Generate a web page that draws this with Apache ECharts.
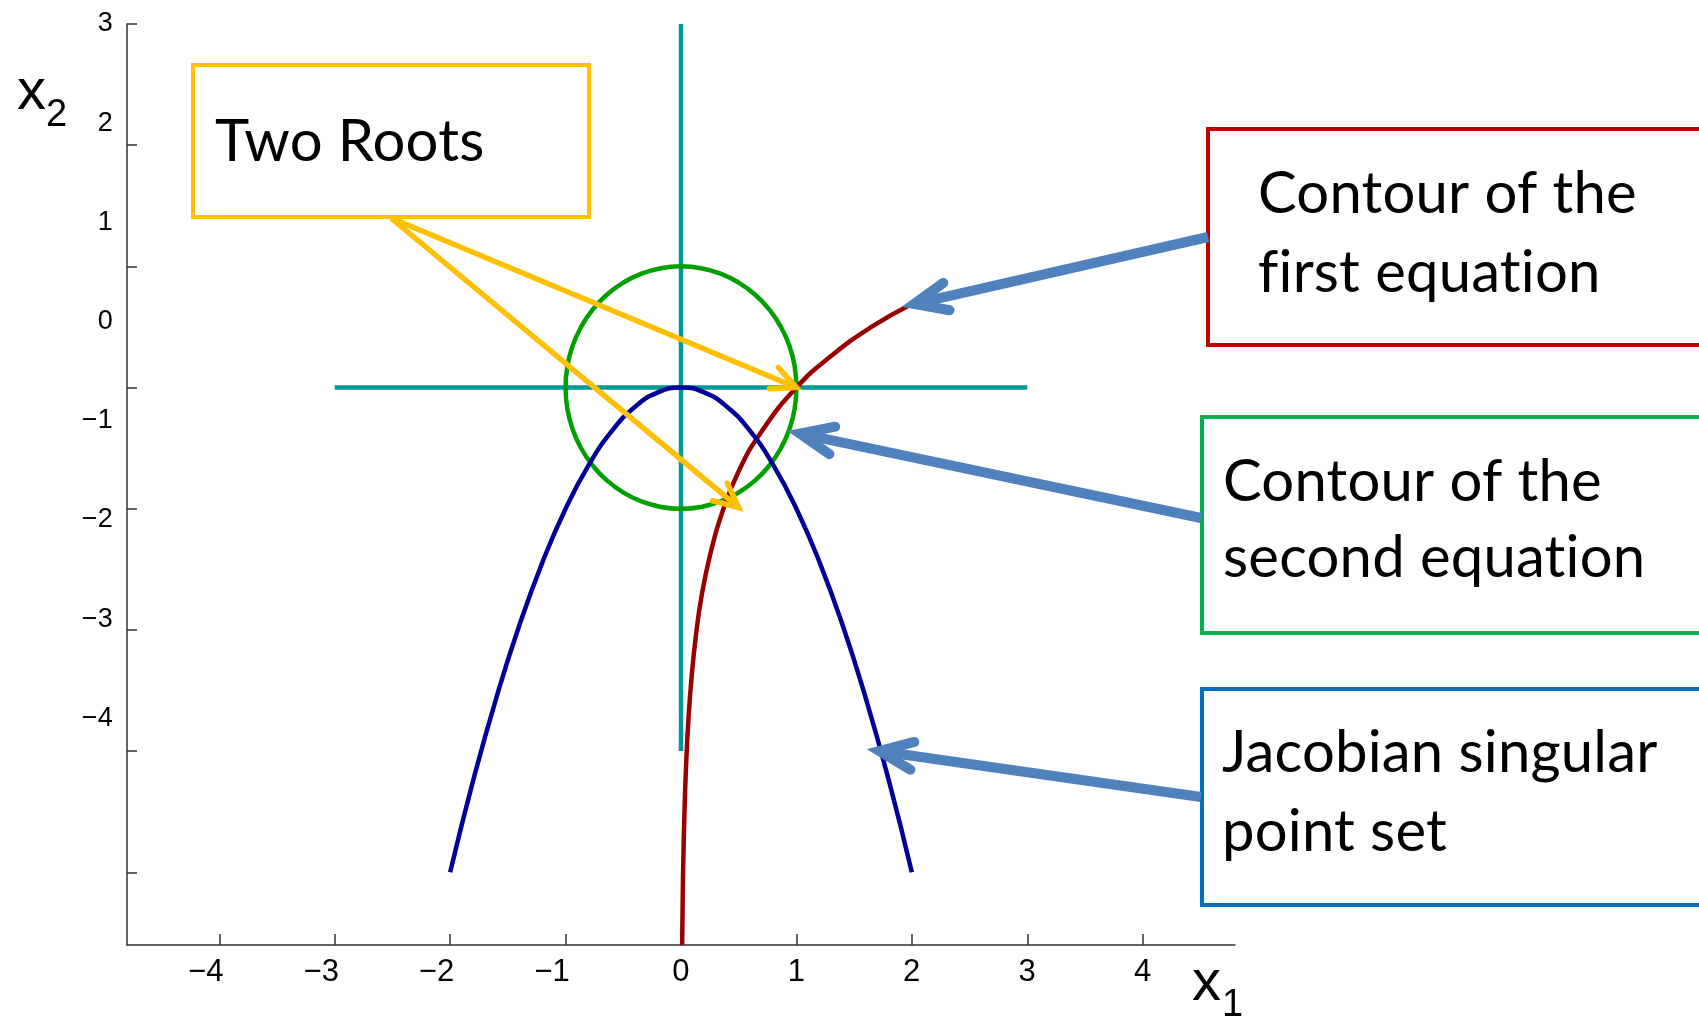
<!DOCTYPE html>
<html><head><meta charset="utf-8">
<script src="https://cdn.jsdelivr.net/npm/echarts@6/dist/echarts.min.js"></script>
<style>html,body{margin:0;padding:0;background:#fff}#c{width:1699px;height:1019px}</style>
</head><body><div id="c"></div>
<script>
// ---- data ----
const xTicks = [-4, -3, -2, -1, 0, 1, 2, 3, 4];
const yTicks = [-4, -3, -2, -1, 0, 1, 2, 3];
const hLine = [[-3, 0], [3, 0]];
const vLine = [[0, 3], [0, -3]];
const circle = [[0.985,-0.174],[1,0],[0.985,0.174],[0.94,0.342],[0.866,0.5],[0.766,0.643],[0.643,0.766],[0.5,0.866],
  [0.342,0.94],[0.174,0.985],[0,1],[-0.174,0.985],[-0.342,0.94],[-0.5,0.866],[-0.643,0.766],[-0.766,0.643],
  [-0.866,0.5],[-0.94,0.342],[-0.985,0.174],[-1,0],[-0.985,-0.174],[-0.94,-0.342],[-0.866,-0.5],[-0.766,-0.643],
  [-0.643,-0.766],[-0.5,-0.866],[-0.342,-0.94],[-0.174,-0.985],[0,-1],[0.174,-0.985],[0.342,-0.94],[0.5,-0.866],
  [0.643,-0.766],[0.766,-0.643],[0.866,-0.5],[0.94,-0.342],[0.985,-0.174],[1,0],[0.985,0.174]];
const parabola = [[-2,-4],[-1.8,-3.24],[-1.6,-2.56],[-1.4,-1.96],[-1.2,-1.44],[-1,-1],[-0.8,-0.64],[-0.6,-0.36],
  [-0.4,-0.16],[-0.2,-0.04],[0,0],[0.2,-0.04],[0.4,-0.16],[0.6,-0.36],[0.8,-0.64],[1,-1],[1.2,-1.44],[1.4,-1.96],
  [1.6,-2.56],[1.8,-3.24],[2,-4]];
const logCurve = [[0.01,-4.6],[0.015,-4.2],[0.02,-3.91],[0.03,-3.51],[0.045,-3.1],[0.065,-2.73],[0.09,-2.41],
  [0.13,-2.04],[0.18,-1.71],[0.25,-1.39],[0.35,-1.05],[0.5,-0.69],[0.7,-0.36],[1,0],[1.3,0.26],[1.65,0.5],[2,0.69]];
const rootTips = [[1, 0], [0.5, -0.99]];
const firstTip = [2.02, 0.69];
const secondTip = [1.03, -0.38];
const jacobianTip = [1.72, -3.0];

// avoid "fi"/"ti" ligatures of the annotation font (non-zero letter spacing disables them)
(function () {
  const P = CanvasRenderingContext2D.prototype, orig = P.fillText;
  P.fillText = function () { try { this.letterSpacing = '0.2px'; } catch (e) {} return orig.apply(this, arguments); };
})();

const minus = v => (v < 0 ? '\u2212' + (-v) : '' + v);
const chart = echarts.init(document.getElementById('c'), null, {renderer: 'canvas'});
const lineS = (data, color, z) => ({type: 'line', data, symbol: 'none', smooth: 0.5, z,
  lineStyle: {color, width: 4.5}, silent: true, animation: false});
const XF = "'Liberation Sans Narrow', 'Liberation Sans', Arial, sans-serif";

chart.setOption({
  animation: false,
  backgroundColor: '#fff',
  grid: {left: 127, top: 24, right: 464, bottom: 74},
  xAxis: {type: 'value', min: -4.8, max: 4.8,
    axisLine: {show: true, onZero: false, lineStyle: {color: '#333', width: 1.5}},
    axisTick: {show: true, inside: true, length: 11, customValues: xTicks, lineStyle: {color: '#333', width: 1.5}},
    axisLabel: {customValues: xTicks, margin: 12, color: '#000', fontSize: 31, fontFamily: XF,
      formatter: v => v < 0 ? '{n|' + minus(v) + '}' : '{p|' + v + '}',
      rich: {n: {fontSize: 31, fontFamily: XF, color: '#000', padding: [0, 27, 0, 0]},
             p: {fontSize: 31, fontFamily: XF, color: '#000'}}},
    splitLine: {show: false}},
  yAxis: [
    {type: 'value', min: -4.6, max: 3,
      axisLine: {show: true, onZero: false, lineStyle: {color: '#333', width: 1.5}},
      axisTick: {show: true, inside: true, length: 10, customValues: yTicks, lineStyle: {color: '#333', width: 1.5}},
      axisLabel: {show: false}, splitLine: {show: false}},
    {type: 'value', min: -6.284, max: 3, position: 'left',
      axisLine: {show: false, onZero: false}, axisTick: {show: false}, splitLine: {show: false},
      axisLabel: {customValues: yTicks, margin: 14, color: '#000', fontSize: 27, fontFamily: 'Liberation Sans',
        padding: [0, 0, 13, 0], formatter: minus}}
  ],
  series: [
    lineS(hLine, '#009999', 2), lineS(vLine, '#009999', 2),
    lineS(circle, '#00A000', 3), lineS(logCurve, '#990000', 4), lineS(parabola, '#000099', 5)
  ]
});

const px = p => chart.convertToPixel({xAxisIndex: 0, yAxisIndex: 0}, p);
function arrow(tail, tip, color, width, headLen, headAng) {
  const a = Math.atan2(tail[1] - tip[1], tail[0] - tip[0]);
  const w1 = [tip[0] + headLen * Math.cos(a + headAng), tip[1] + headLen * Math.sin(a + headAng)];
  const w2 = [tip[0] + headLen * Math.cos(a - headAng), tip[1] + headLen * Math.sin(a - headAng)];
  const back = width * 0.6;
  const st = [tip[0] + back * Math.cos(a), tip[1] + back * Math.sin(a)];
  return [
    {type: 'line', z: 50, shape: {x1: tail[0], y1: tail[1], x2: st[0], y2: st[1]},
      style: {stroke: color, lineWidth: width, lineCap: 'butt'}},
    {type: 'polyline', z: 50, shape: {points: [w1, tip, w2]},
      style: {stroke: color, lineWidth: width, lineCap: 'round', lineJoin: 'miter', fill: null}}
  ];
}
function box(x, y, w, h, color) {
  return {type: 'rect', z: 40, shape: {x, y, width: w, height: h},
    style: {stroke: color, lineWidth: 4, fill: '#fff'}};
}
function txt(x, baseline, text, size, family) {
  const fam = family || 'Lato';
  const k = fam === 'Lato' ? 0.387 : 0.347;
  return {type: 'text', z: 60, x, y: baseline - k * size,
    style: {text, fontSize: size, fontFamily: fam, fill: '#000', verticalAlign: 'middle', align: 'left'}};
}
const F = 58;
const yellowTail = [391, 218];
const blueC = '#4F81BD';
let g = [];
g.push(box(193, 65, 396, 152, '#FFC000'));
g.push(txt(215, 165, 'Two Roots', F));
g.push(box(1208, 129, 520, 216, '#C00000'));
g.push(txt(1258, 217, 'Contour of the', F));
g.push(txt(1258, 296, 'first equation', F));
g.push(box(1202, 417, 520, 216, '#00B050'));
g.push(txt(1223, 505, 'Contour of the', F));
g.push(txt(1223, 581, 'second equation', F));
g.push(box(1202, 689, 520, 216, '#0070C0'));
g.push(txt(1222, 776, 'Jacobian singular', F));
g.push(txt(1222, 855, 'point set', F));
rootTips.forEach(t => { g = g.concat(arrow(yellowTail, px(t), '#FFC000', 5.5, 27, 0.44)); });
g = g.concat(arrow([1208, 237], px(firstTip), blueC, 10, 36, 0.40));
g = g.concat(arrow([1201, 518], px(secondTip), blueC, 10, 36, 0.40));
g = g.concat(arrow([1201, 797], px(jacobianTip), blueC, 10, 36, 0.40));
// axis titles
g.push(txt(17, 113, 'x', 58, 'Liberation Sans'));
g.push(txt(46, 129, '2', 38, 'Liberation Sans'));
g.push(txt(1192, 1004, 'x', 58, 'Liberation Sans'));
g.push(txt(1222, 1019, '1', 38, 'Liberation Sans'));
chart.setOption({graphic: {elements: g}});
</script></body></html>
